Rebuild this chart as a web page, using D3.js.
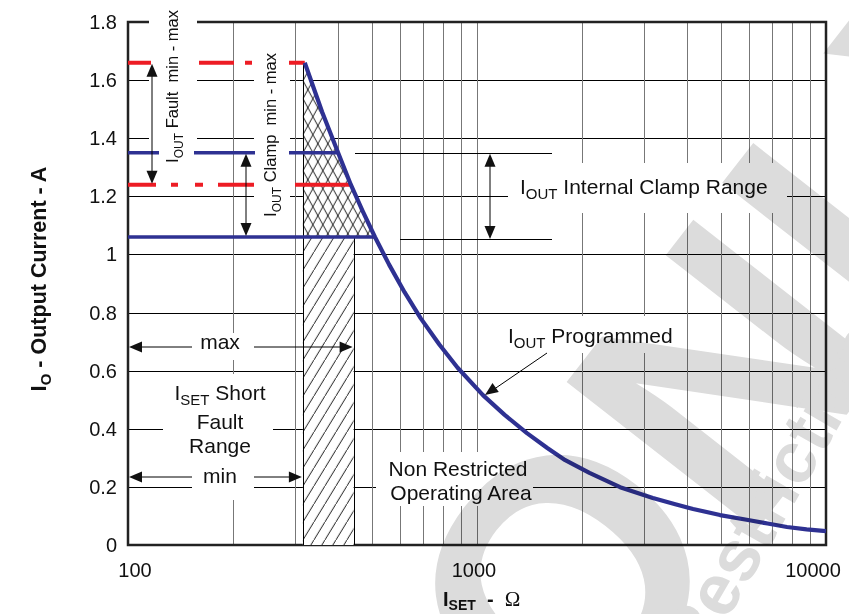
<!DOCTYPE html>
<html><head><meta charset="utf-8">
<script src="https://cdn.jsdelivr.net/npm/d3@7"></script>
<style>
body{margin:0;background:#fff;}
svg{display:block;font-family:"Liberation Sans",Arial,sans-serif;}
</style></head><body>
<svg id="chart" width="849" height="614"></svg>
<script>
// ---------- data ----------
const resistance = [321, 360, 400, 435, 470, 510, 560, 620, 690, 780, 880, 1040, 1200, 1390, 1590, 1790, 2100, 2570, 3190, 3700, 4160, 4970, 5980, 6800, 7730, 8800, 10000];
const current    = [1.66, 1.49, 1.35, 1.24, 1.15, 1.06, 0.965, 0.87, 0.78, 0.69, 0.61, 0.516, 0.448, 0.385, 0.334, 0.292, 0.248, 0.199, 0.162, 0.14, 0.124, 0.103, 0.086, 0.074, 0.062, 0.054, 0.048];
const yTicks = [0, 0.2, 0.4, 0.6, 0.8, 1.0, 1.2, 1.4, 1.6, 1.8];
const yTickLabels = ["0", "0.2", "0.4", "0.6", "0.8", "1", "1.2", "1.4", "1.6", "1.8"];
const xTicks = [100, 1000, 10000];
const xTickLabels = ["100", "1000", "10000"];
const xGrid = [200, 300, 400, 500, 600, 700, 800, 900, 1000, 2000, 3000, 4000, 5000, 6000, 7000, 8000, 9000];
const faultLevels = [1.24, 1.66];      // I_OUT fault min, max
const clampLevels = [1.06, 1.35];      // I_OUT clamp min, max
const shortFaultRange = [317, 443];    // I_SET short fault min, max (ohm)

// ---------- setup ----------
const svg = d3.select("#chart");
const x = d3.scaleLog().domain([100, 10000]).range([128, 826]);
const y = d3.scaleLinear().domain([0, 1.8]).range([545, 22]);
const BLUE = "#2e3192", RED = "#ed1c24";
const crisp = v => Math.round(v) + 0.5;

function crossR(level) {
  for (let i = 0; i < current.length - 1; i++) {
    const a = current[i], b = current[i + 1];
    if ((a - level) * (b - level) <= 0) {
      const t = (a - level) / (a - b);
      return Math.exp(Math.log(resistance[i]) + t * (Math.log(resistance[i + 1]) - Math.log(resistance[i])));
    }
  }
  return resistance[0];
}

const defs = svg.append("defs");
const cross = defs.append("pattern").attr("id", "cross").attr("patternUnits", "userSpaceOnUse")
  .attr("width", 10).attr("height", 18).attr("x", x(shortFaultRange[0])).attr("y", y(faultLevels[1]));
cross.append("path").attr("d", "M0,0L10,18M0,18L10,0").attr("stroke", "#000").attr("stroke-width", 0.9).attr("fill", "none");
const diag = defs.append("pattern").attr("id", "diag").attr("patternUnits", "userSpaceOnUse")
  .attr("width", 11).attr("height", 18).attr("x", x(shortFaultRange[0])).attr("y", 0);
diag.append("path").attr("d", "M0,18L11,0M-1,1L1,-1M10,19L12,17").attr("stroke", "#000").attr("stroke-width", 0.9).attr("fill", "none");

// ---------- grid ----------
const grid = svg.append("g");
grid.selectAll("line.h").data(yTicks.filter(v => v > 0 && v < 1.8)).join("line")
  .attr("x1", x(100)).attr("x2", x(10000))
  .attr("y1", d => crisp(y(d))).attr("y2", d => crisp(y(d)))
  .attr("stroke", "#000").attr("stroke-width", 1);
grid.selectAll("line.v").data(xGrid).join("line")
  .attr("x1", d => crisp(x(d))).attr("x2", d => crisp(x(d)))
  .attr("y1", y(1.8)).attr("y2", y(0))
  .attr("stroke", "#777").attr("stroke-width", 1);

// border
svg.append("rect").attr("x", x(100)).attr("y", y(1.8)).attr("width", x(10000) - x(100)).attr("height", y(0) - y(1.8))
  .attr("fill", "none").attr("stroke", "#222").attr("stroke-width", 2.5);

// white label boxes (interrupt the grid)
const boxes = [[149, 0, 48, 170], [254, 45, 36, 177], [192, 333, 62, 27], [163, 374, 110, 92], [192, 466, 62, 34],
  [508, 163, 279, 50], [500, 316, 182, 37], [376, 452, 157, 54]];
svg.append("g").selectAll("rect").data(boxes).join("rect")
  .attr("x", d => d[0]).attr("y", d => d[1]).attr("width", d => d[2]).attr("height", d => d[3]).attr("fill", "#fff");

// hatched regions
const rA = shortFaultRange[0], rB = shortFaultRange[1];
svg.append("rect").attr("x", x(rA)).attr("y", y(clampLevels[0])).attr("width", x(rB) - x(rA)).attr("height", y(0) - y(clampLevels[0]))
  .attr("fill", "#fff");
svg.append("rect").attr("x", x(rA)).attr("y", y(clampLevels[0])).attr("width", x(rB) - x(rA)).attr("height", y(0) - y(clampLevels[0]))
  .attr("fill", "url(#diag)");
const rClampLo = crossR(clampLevels[0]);
const poly = [[rA, clampLevels[0]], [rA, faultLevels[1]]];
resistance.forEach((r, i) => { if (r <= rClampLo) poly.push([r, current[i]]); });
poly.push([rClampLo, clampLevels[0]]);
const polyPath = d3.line().x(d => x(d[0])).y(d => y(d[1]));
svg.append("path").attr("d", polyPath(poly) + "Z").attr("fill", "#fff");
svg.append("path").attr("d", polyPath(poly) + "Z").attr("fill", "url(#cross)");
svg.append("line").attr("x1", crisp(x(rA))).attr("x2", crisp(x(rA))).attr("y1", y(faultLevels[1])).attr("y2", y(0)).attr("stroke", "#000").attr("stroke-width", 1);
svg.append("line").attr("x1", crisp(x(rB))).attr("x2", crisp(x(rB))).attr("y1", y(clampLevels[0])).attr("y2", y(0)).attr("stroke", "#000").attr("stroke-width", 1);

// ---------- level lines ----------
const levels = [
  {v: faultLevels[1], c: RED, w: 4, dash: "23,48,35,11,7,37,30"},
  {v: faultLevels[0], c: RED, w: 4, dash: "28,15,7,17,8,15,36,41,80"},
  {v: clampLevels[1], c: BLUE, w: 3.5, dash: "31,35,61,34,200"},
  {v: clampLevels[0], c: BLUE, w: 3.5, dash: null}
];
svg.append("g").selectAll("line").data(levels).join("line")
  .attr("x1", x(100)).attr("x2", d => x(crossR(d.v)))
  .attr("y1", d => y(d.v)).attr("y2", d => y(d.v))
  .attr("stroke", d => d.c).attr("stroke-width", d => d.w)
  .attr("stroke-dasharray", d => d.dash);

// curve
svg.append("path").datum(resistance.map((r, i) => [r, current[i]]))
  .attr("d", d3.line().x(d => x(d[0])).y(d => y(d[1])))
  .attr("fill", "none").attr("stroke", BLUE).attr("stroke-width", 4.2).attr("stroke-linejoin", "round");

// ---------- annotations ----------
const ann = svg.append("g");
function line(x1, y1, x2, y2) {
  ann.append("line").attr("x1", x1).attr("y1", y1).attr("x2", x2).attr("y2", y2).attr("stroke", "#000").attr("stroke-width", 1);
}
function head(tx, ty, ang) {
  const L = 13, Wd = 5.5, a = ang * Math.PI / 180;
  const bx = tx - L * Math.cos(a), by = ty - L * Math.sin(a);
  const px = -Math.sin(a) * Wd, py = Math.cos(a) * Wd;
  ann.append("path").attr("d", `M${tx},${ty}L${bx + px},${by + py}L${bx - px},${by - py}Z`).attr("fill", "#111");
}
line(152, y(faultLevels[1]) + 4, 152, y(faultLevels[0]) - 4);
head(152, y(faultLevels[1]) + 1, -90); head(152, y(faultLevels[0]) - 1, 90);
line(246, y(clampLevels[1]) + 4, 246, y(clampLevels[0]) - 4);
head(246, y(clampLevels[1]) + 1, -90); head(246, y(clampLevels[0]) - 1, 90);
line(355, crisp(y(clampLevels[1])), 552, crisp(y(clampLevels[1])));
line(400, crisp(y(clampLevels[0])) + 2, 552, crisp(y(clampLevels[0])) + 2);
line(490, y(clampLevels[1]) + 4, 490, y(clampLevels[0]) - 2);
head(490, y(clampLevels[1]) + 1, -90); head(490, y(clampLevels[0]) + 2, 90);
line(x(100) + 4, 347, 192, 347); line(254, 347, x(rB) - 4, 347);
head(x(100) + 1, 347, 180); head(x(rB) - 1, 347, 0);
line(x(100) + 4, 477, 192, 477); line(254, 477, x(rA) - 4, 477);
head(x(100) + 1, 477, 180); head(x(rA) - 1, 477, 0);
line(547, 353, 490, 392);
head(485, 395, 145);

// ---------- text ----------
function subText(g, parts, attrs) {
  const t = g.append("text");
  Object.entries(attrs).forEach(([k, v]) => t.attr(k, v));
  t.style("white-space", "pre");
  parts.forEach(p => {
    const s = t.append("tspan").text(p.t).attr("font-size", p.fs);
    if (p.dy) s.attr("dy", p.dy);
  });
  return t;
}
const T = svg.append("g").attr("fill", "#111");
T.selectAll("text.yt").data(yTicks).join("text")
  .attr("x", 117).attr("y", d => y(d) + 7).attr("text-anchor", "end").attr("font-size", 20)
  .text((d, i) => yTickLabels[i]);
const xOff = [7, -3, -13];
T.selectAll("text.xt").data(xTicks).join("text")
  .attr("x", (d, i) => x(d) + xOff[i]).attr("y", 577).attr("text-anchor", "middle").attr("font-size", 20)
  .text((d, i) => xTickLabels[i]);

subText(T, [{t: "I", fs: 22}, {t: "O", fs: 15, dy: 5}, {t: " - Output Current - A", fs: 21.5, dy: -5}],
  {transform: "translate(46,279) rotate(-90)", "text-anchor": "middle", "font-weight": "bold"});
const xt = T.append("text").attr("x", 443).attr("y", 606).attr("font-weight", "bold");
xt.append("tspan").text("I").attr("font-size", 20);
xt.append("tspan").text("SET").attr("font-size", 14).attr("dy", 4);
xt.append("tspan").text("  -  ").attr("font-size", 20).attr("dy", -4).style("white-space", "pre");
xt.append("tspan").text("Ω").attr("font-size", 21).attr("font-weight", "normal").attr("font-family", "Liberation Serif");

subText(T, [{t: "I", fs: 17}, {t: "OUT", fs: 12, dy: 5}, {t: " Fault  min - max", fs: 16.5, dy: -5}],
  {transform: "translate(178,163) rotate(-90)"});
subText(T, [{t: "I", fs: 17}, {t: "OUT", fs: 12, dy: 5}, {t: " Clamp  min - max", fs: 16.5, dy: -5}],
  {transform: "translate(276,217) rotate(-90)"});

subText(T, [{t: "I", fs: 21}, {t: "OUT", fs: 15, dy: 5}, {t: " Internal Clamp Range", fs: 21, dy: -5}],
  {x: 520, y: 194});
subText(T, [{t: "I", fs: 21}, {t: "OUT", fs: 15, dy: 5}, {t: " Programmed", fs: 21, dy: -5}],
  {x: 508, y: 343});
T.append("text").attr("x", 220).attr("y", 349).attr("text-anchor", "middle").attr("font-size", 21).text("max");
T.append("text").attr("x", 220).attr("y", 483).attr("text-anchor", "middle").attr("font-size", 21).text("min");
subText(T, [{t: "I", fs: 21}, {t: "SET", fs: 15, dy: 5}, {t: " Short", fs: 21, dy: -5}],
  {x: 220, y: 400, "text-anchor": "middle"});
T.append("text").attr("x", 220).attr("y", 429).attr("text-anchor", "middle").attr("font-size", 21).text("Fault");
T.append("text").attr("x", 220).attr("y", 453).attr("text-anchor", "middle").attr("font-size", 21).text("Range");
T.append("text").attr("x", 458).attr("y", 476).attr("text-anchor", "middle").attr("font-size", 21).text("Non Restricted");
T.append("text").attr("x", 461).attr("y", 500).attr("text-anchor", "middle").attr("font-size", 21).text("Operating Area");

// ---------- watermark ----------
const wm = svg.append("g").style("mix-blend-mode", "multiply").attr("fill", "#dcdcdc").attr("font-weight", "bold");
wm.append("text").attr("transform", "translate(768,318) rotate(-52)").attr("text-anchor", "middle")
  .attr("dominant-baseline", "central").attr("font-size", 350).text("ONLY");
wm.append("text").attr("transform", "translate(700,667) rotate(-60)").attr("font-size", 72).text("Restrictions");
</script>
</body></html>
